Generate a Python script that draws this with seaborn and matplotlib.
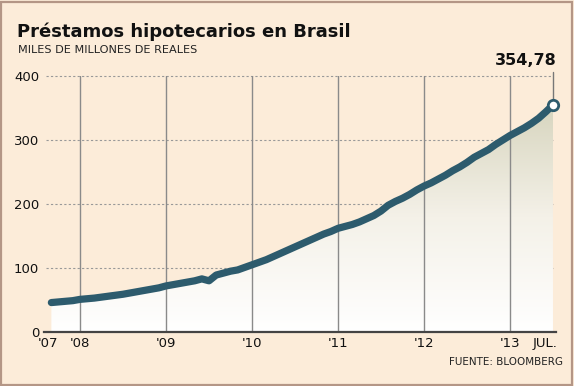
import numpy as np
import pandas as pd
import seaborn as sns
import matplotlib.pyplot as plt
from matplotlib.patches import Rectangle

# monthly mortgage loans, Sep 2007 .. Jul 2013 (billions of reais)
values_2007 = [46, 47, 48, 49]
values_2008 = [51, 52, 53, 54.5, 56, 57.5, 59, 61, 63, 65, 67, 69]
values_2009 = [72, 74, 76, 78, 80, 83, 80, 89, 92, 95, 97, 101]
values_2010 = [105, 109, 113, 118, 123, 128, 133, 138, 143, 148, 153, 157]
values_2011 = [162, 165, 168, 172, 177, 182, 189, 198, 204, 209, 215, 222]
values_2012 = [228, 233, 239, 245, 252, 258, 265, 273, 279, 285, 293, 300]
values_2013 = [307, 313, 319, 326, 334, 344, 354.78]

tick_years = [2008, 2009, 2010, 2011, 2012, 2013]
tick_labels = ["'08", "'09", "'10", "'11", "'12", "'13"]
y_ticks = [0, 100, 200, 300, 400]

values = values_2007 + values_2008 + values_2009 + values_2010 + values_2011 + values_2012 + values_2013
months = pd.date_range("2007-09-01", periods=len(values), freq="MS")
df = pd.DataFrame({"t": months.year + (months.month - 1) / 12, "valor": values})

bg = "#fcecd9"
teal = "#2d5b6d"

sns.set_theme(style="white")
plt.rcParams["font.family"] = ["DejaVu Sans"]

fig = plt.figure(figsize=(5.74, 3.86), dpi=100, facecolor=bg)
fig.patches.append(Rectangle((0.002, 0.003), 0.995, 0.993, transform=fig.transFigure,
                             fill=False, edgecolor="#b49686", linewidth=1.6))
ax = fig.add_axes([44 / 574, 1 - 332 / 386, (556 - 44) / 574, (332 - 76) / 386])
ax.set_facecolor(bg)
ax.set_xlim(2007.581, 2013.535)
ax.set_ylim(0, 400)

# gradient fill under the curve
poly = ax.fill_between(df["t"], df["valor"], 0, color="none")
grad = np.linspace(0, 1, 256).reshape(-1, 1)
cmap = sns.blend_palette(["#ffffff", "#f4f1e8", "#d6d4bd"], as_cmap=True)
img = ax.imshow(grad, extent=[df["t"].min(), df["t"].max(), 0, 360], origin="lower",
                aspect="auto", cmap=cmap, zorder=1)
img.set_clip_path(poly.get_paths()[0], transform=ax.transData)

for yv in y_ticks[1:]:
    ax.plot([2007.6, 2013.5], [yv, yv], color="#999999", linestyle=(0, (2, 2)), linewidth=0.8, zorder=0.5,
            clip_on=False)
for yr in tick_years:
    ax.axvline(yr, color="#8a8a8a", linewidth=1.0, zorder=1.5)

sns.lineplot(data=df, x="t", y="valor", color=teal, linewidth=5.2, ax=ax, zorder=3,
             solid_capstyle="round", solid_joinstyle="round")

last_t = df["t"].iloc[-1]
last_v = df["valor"].iloc[-1]
ax.plot([last_t, last_t], [last_v, 406], color="#777777", linewidth=1.0, zorder=2, clip_on=False)
ax.plot([last_t], [last_v], marker="o", markersize=7.5, markerfacecolor="white",
        markeredgecolor=teal, markeredgewidth=2, zorder=4, clip_on=False)
ax.text(2013.18, 413, "354,78", ha="center", va="bottom", fontsize=11.5, fontweight="bold",
        color="#111111")

ax.set_xticks([2007.63] + tick_years + [2013.41])
ax.set_xticklabels(["'07"] + tick_labels + ["JUL."], fontsize=9.5, color="#111111")
ax.set_yticks(y_ticks)
ax.set_yticklabels([str(v) for v in y_ticks], fontsize=9.5, color="#111111")
ax.tick_params(axis="both", length=0, pad=3.5)
ax.set_xlabel("")
ax.set_ylabel("")
for side in ["top", "right", "left"]:
    ax.spines[side].set_visible(False)
ax.spines["bottom"].set_color("#444444")
ax.spines["bottom"].set_linewidth(1.6)
ax.spines["bottom"].set_zorder(5)

fig.text(17 / 574, 1 - 37 / 386, "Préstamos hipotecarios en Brasil", fontsize=13, fontweight="bold",
         color="#111111")
fig.text(18 / 574, 1 - 53 / 386, "MILES DE MILLONES DE REALES", fontsize=8.1, color="#222222",
         va="baseline")
fig.text(563 / 574, 1 - 365 / 386, "FUENTE: BLOOMBERG", fontsize=7.5, color="#222222", ha="right")

fig.savefig("out.png", dpi=100, facecolor=bg)
